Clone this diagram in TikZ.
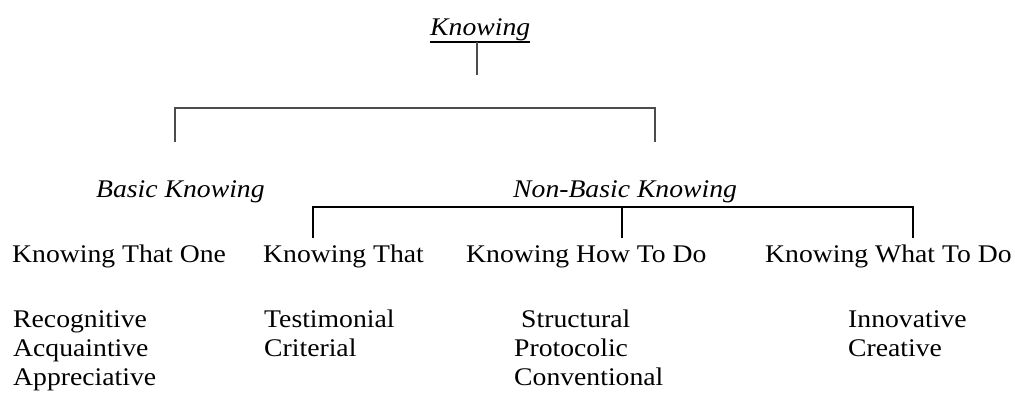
\documentclass[tikz,border=0pt]{standalone}
\usepackage{fontspec}
\setmainfont{Liberation Serif}[FakeStretch=1.09]
\usetikzlibrary{calc}
\begin{document}
\begin{tikzpicture}[x=1pt,y=-1pt,
  lbl/.style={inner sep=0pt, anchor=base west, font=\fontsize{25.4}{29}\selectfont},
  ilbl/.style={lbl, font=\fontsize{25.4}{29}\selectfont\itshape},
  conn/.style={line width=1.2pt, black},
  connA/.style={line width=1.4pt, black!70}]
\useasboundingbox (0,0) rectangle (1015,397);
% top
\node[ilbl] (k) at (430,35) {Knowing};
\coordinate (kl) at (430,42);
\coordinate (kr) at (530,42);
\coordinate (kc) at (477,42);
\coordinate (kd) at (477,75);
\draw[conn] (kl) -- (kr);
\draw[connA] (kc) -- (kd);
% first bracket
\coordinate (b1l) at (175,108);
\coordinate (b1r) at (655,108);
\coordinate (b1ld) at (175,142);
\coordinate (b1rd) at (655,142);
\draw[connA] (b1ld) -- (b1l) -- (b1r) -- (b1rd);
% second level
\node[ilbl] (basic) at (96,197) {Basic Knowing};
\node[ilbl] (nonbasic) at (513,197) {Non-Basic Knowing};
% second bracket
\coordinate (b2l) at (313,207);
\coordinate (b2m) at (622,207);
\coordinate (b2r) at (913,207);
\coordinate (b2ld) at (313,238);
\coordinate (b2md) at (622,238);
\coordinate (b2rd) at (913,238);
\draw[conn] (b2ld) -- (b2l) -- (b2r) -- (b2rd);
\draw[conn] (b2m) -- (b2md);
% third level
\node[lbl] (kto) at (12,262) {Knowing That One};
\node[lbl] (kt) at (263,262) {Knowing That};
\node[lbl] (khow) at (466,262) {Knowing How To Do};
\node[lbl] (kwhat) at (765,262) {Knowing What To Do};
% lists
\node[lbl] (rec) at (13,327) {Recognitive};
\node[lbl] (acq) at (13,356) {Acquaintive};
\node[lbl] (app) at (13,385) {Appreciative};
\node[lbl] (tes) at (264,327) {Testimonial};
\node[lbl] (cri) at (264,356) {Criterial};
\node[lbl] (str) at (521,327) {Structural};
\node[lbl] (pro) at (514,356) {Protocolic};
\node[lbl] (con) at (514,385) {Conventional};
\node[lbl] (inn) at (848,327) {Innovative};
\node[lbl] (cre) at (848,356) {Creative};
\end{tikzpicture}
\end{document}
